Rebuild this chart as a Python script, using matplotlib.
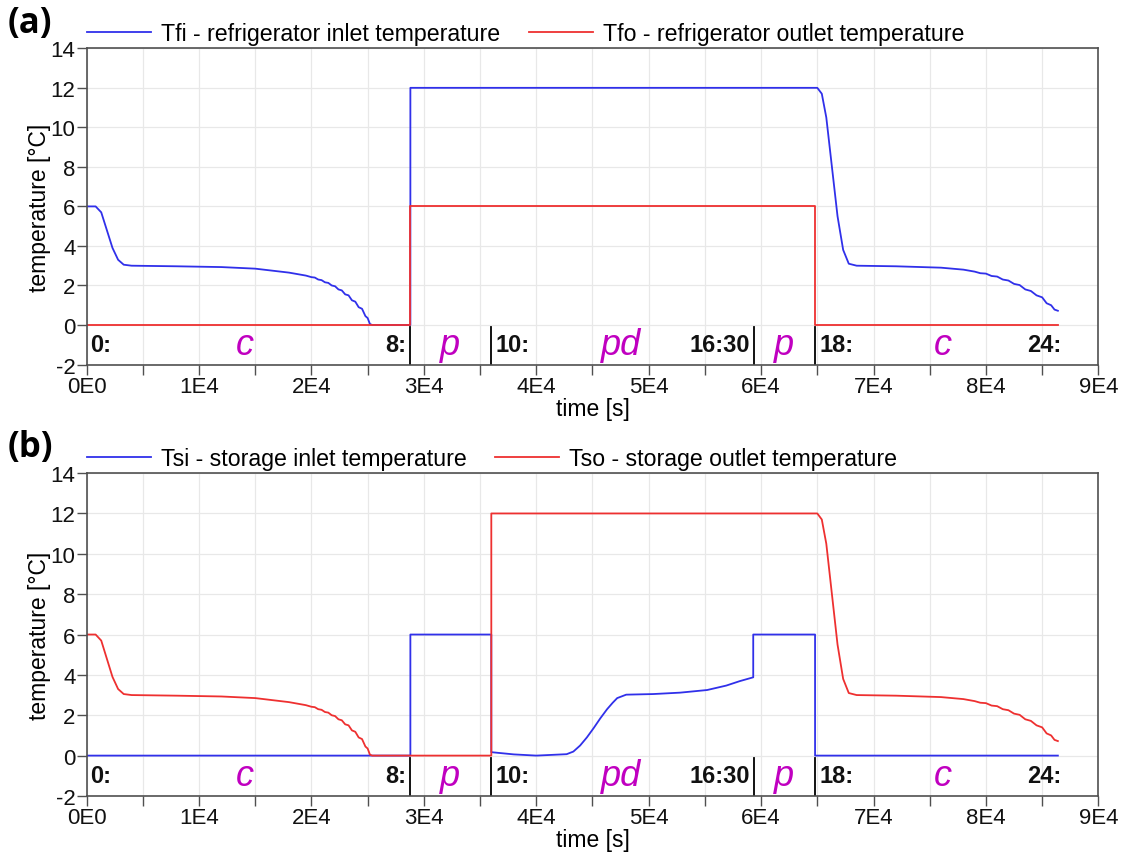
import math
import matplotlib
matplotlib.use("Agg")
import matplotlib.pyplot as plt
from matplotlib.ticker import MultipleLocator, FuncFormatter

plt.rcParams["font.family"] = ["Liberation Sans", "DejaVu Sans"]
plt.rcParams["axes.unicode_minus"] = False

# ---- data -------------------------------------------------------------
# time [s] and temperature [degC]

# morning cool-down of the warm stream (06:00 -> 0 degC)
cool_am_t = [0, 800, 1300, 1800, 2300, 2800, 3300, 4000, 8000, 12000, 15000,
             18000, 19500, 20000, 20300, 20600, 20900, 21200, 21500, 21800,
             22100, 22400, 22700, 23000, 23300, 23600, 23900, 24200, 24500,
             24800, 25000, 25200, 25400]
cool_am_T = [6.0, 6.0, 5.7, 4.8, 3.9, 3.3, 3.05, 3.0, 2.97, 2.93, 2.85,
             2.65, 2.5, 2.42, 2.40, 2.30, 2.27, 2.16, 2.13, 2.0,
             1.96, 1.80, 1.75, 1.55, 1.50, 1.25, 1.18, 0.90, 0.82,
             0.45, 0.35, 0.05, 0.0]

# evening cool-down after the 12 degC plateau
cool_pm_t = [65000, 65400, 65800, 66300, 66800, 67300, 67800, 68500, 72000,
             76000, 78000, 79000, 79500, 80000, 80500, 81000, 81500, 82000,
             82500, 83000, 83500, 84000, 84500, 85000, 85400, 85800, 86100,
             86400]
cool_pm_T = [12.0, 11.7, 10.5, 8.0, 5.5, 3.8, 3.1, 3.0, 2.97,
             2.9, 2.8, 2.7, 2.62, 2.6, 2.48, 2.45, 2.30, 2.25,
             2.08, 2.02, 1.80, 1.72, 1.50, 1.40, 1.10, 1.0, 0.78,
             0.72]

# (a) refrigerator
tfi_t = cool_am_t + [28800, 28800] + cool_pm_t
tfi_T = cool_am_T + [0.0, 12.0] + cool_pm_T
tfo_t = [0, 28800, 28800, 64800, 64800, 86400]
tfo_T = [0.0, 0.0, 6.0, 6.0, 0.0, 0.0]

# (b) storage
tsi_t = [0, 28800, 28800, 36000, 36000, 38000, 40000, 42700, 43300, 43900,
         44500, 45100, 45700, 46300, 46800, 47200, 48000, 50400, 52800,
         55200, 56900, 58100, 59300, 59300, 64800, 64800, 86400]
tsi_T = [0.0, 0.0, 6.0, 6.0, 0.17, 0.06, 0.0, 0.07, 0.2, 0.5,
         0.9, 1.36, 1.85, 2.3, 2.62, 2.85, 3.02, 3.05, 3.12,
         3.25, 3.47, 3.69, 3.88, 6.0, 6.0, 0.0, 0.0]
tso_t = cool_am_t + [36000, 36000] + cool_pm_t
tso_T = cool_am_T + [0.0, 12.0] + cool_pm_T

# day periods: boundaries [s], clock labels and period letters
bounds = [28800, 36000, 59400, 64800]
clock_labels = [("0:", 300, "left"), ("8:", 28400, "right"),
                ("10:", 36400, "left"), ("16:30", 59000, "right"),
                ("18:", 65200, "left"), ("24:", 86700, "right")]
period_labels = [("c", 14050), ("p", 32300), ("pd", 47500),
                 ("p", 62000), ("c", 76150)]

BLUE = "#3030ea"
RED = "#ee3030"
MAGENTA = "#c000c0"


def sci_fmt(v, pos):
    if v == 0:
        return "0E0"
    e = int(math.floor(math.log10(abs(v))))
    m = v / 10 ** e
    return f"{m:g}E{e}"


def style_axes(ax):
    ax.set_xlim(0, 90000)
    ax.set_ylim(-2, 14)
    ax.xaxis.set_major_locator(MultipleLocator(10000))
    ax.xaxis.set_minor_locator(MultipleLocator(5000))
    ax.xaxis.set_major_formatter(FuncFormatter(sci_fmt))
    ax.yaxis.set_major_locator(MultipleLocator(2))
    ax.grid(True, which="both", axis="x", color="#e8e8e8", lw=0.9)
    ax.grid(True, which="major", axis="y", color="#e8e8e8", lw=0.9)
    ax.set_axisbelow(True)
    for s in ax.spines.values():
        s.set_color("#505050")
        s.set_linewidth(1.2)
    ax.tick_params(which="both", direction="out", length=7, width=1.0,
                   color="#505050", labelsize=16, labelcolor="#111111", pad=1)
    ax.set_ylabel("temperature [°C]", fontsize=16.5, labelpad=0)
    ax.set_xlabel("time [s]", fontsize=16.5, labelpad=0)

    for b in bounds:
        ax.plot([b, b], [-0.1, -2], color="black", lw=1.3)
    for txt, x, ha in clock_labels:
        ax.text(x, -1.0, txt, ha=ha, va="center", fontsize=17,
                fontweight="bold", color="#111111")
    for txt, x in period_labels:
        ax.text(x, -1.0, txt, ha="center", va="center", fontsize=26,
                style="italic", color=MAGENTA)


fig = plt.figure(figsize=(11.25, 8.53), dpi=100)
ax_a = fig.add_axes([0.077, 0.5715, 0.8993, 0.3707])
ax_b = fig.add_axes([0.077, 0.0657, 0.8993, 0.3785])

ax_a.plot(tfi_t, tfi_T, color=BLUE, lw=1.3,
          label="Tfi - refrigerator inlet temperature")
ax_a.plot(tfo_t, tfo_T, color=RED, lw=1.3,
          label="Tfo - refrigerator outlet temperature")
ax_b.plot(tsi_t, tsi_T, color=BLUE, lw=1.3,
          label="Tsi - storage inlet temperature")
ax_b.plot(tso_t, tso_T, color=RED, lw=1.3,
          label="Tso - storage outlet temperature")

for ax, tag in ((ax_a, "(a)"), (ax_b, "(b)")):
    style_axes(ax)
    ax.legend(loc="lower left", bbox_to_anchor=(0.0, 1.01), ncol=2,
              frameon=False, fontsize=16.7, handlelength=2.76,
              handletextpad=0.43, columnspacing=1.25, borderpad=0.0,
              borderaxespad=0.0)
    ax.text(-0.078, 1.08, tag, transform=ax.transAxes, fontsize=25,
            fontweight="bold", ha="left", va="center",
            family=["Open Sans", "DejaVu Sans"])

fig.savefig("out.png", dpi=100)
